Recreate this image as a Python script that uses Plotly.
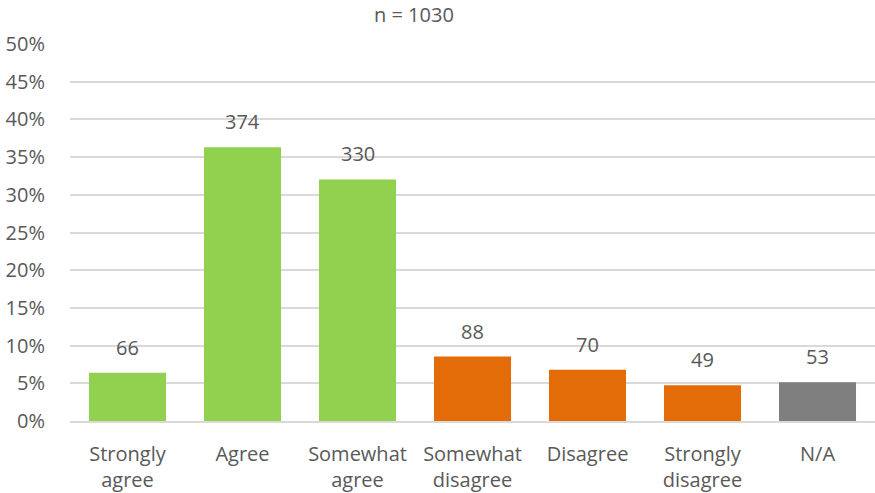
import plotly.graph_objects as go

# Survey responses
categories = ["Strongly<br>agree", "Agree", "Somewhat<br>agree", "Somewhat<br>disagree",
              "Disagree", "Strongly<br>disagree", "N/A"]
counts = [66, 374, 330, 88, 70, 49, 53]
total = 1030
bar_colors = ["#92D050", "#92D050", "#92D050", "#E36C09", "#E36C09", "#E36C09", "#7F7F7F"]
tick_vals = [0, 0.05, 0.10, 0.15, 0.20, 0.25, 0.30, 0.35, 0.40, 0.45, 0.50]

shares = [c / total for c in counts]
font_family = "Open Sans, Liberation Sans, sans-serif"
text_color = "#595959"
fs = 20

fig = go.Figure(go.Bar(
    x=categories,
    y=shares,
    marker=dict(color=bar_colors, line=dict(width=0)),
    hoverinfo="skip",
))

# Count labels above each bar
for cat, share, cnt in zip(categories, shares, counts):
    fig.add_annotation(x=cat, y=share, text=str(cnt), showarrow=False,
                       yanchor="bottom", yshift=10,
                       font=dict(family=font_family, size=fs, color=text_color))

fig.update_layout(
    width=875, height=493,
    margin=dict(l=70, r=0, t=44, b=72),
    paper_bgcolor="white", plot_bgcolor="white",
    bargap=0.33,
    showlegend=False,
    font=dict(family=font_family, size=fs, color=text_color),
    annotations=list(fig.layout.annotations) + [
        dict(text="n = 1030", xref="paper", yref="paper", x=0.427, y=1,
             yanchor="bottom", yshift=14, showarrow=False,
             font=dict(family=font_family, size=fs, color=text_color))
    ],
)
fig.update_yaxes(range=[0, 0.5], tickvals=tick_vals, tickformat=".0%",
                 showgrid=True, gridcolor="#D9D9D9", gridwidth=2,
                 zeroline=False, showline=False, ticks="",
                 ticklabelstandoff=24,
                 tickfont=dict(family=font_family, size=fs, color=text_color))
fig.update_xaxes(showline=True, linecolor="#D9D9D9", linewidth=2, ticks="",
                 ticklabelstandoff=14,
                 tickfont=dict(family=font_family, size=fs, color=text_color))

fig.write_html("out.html")
